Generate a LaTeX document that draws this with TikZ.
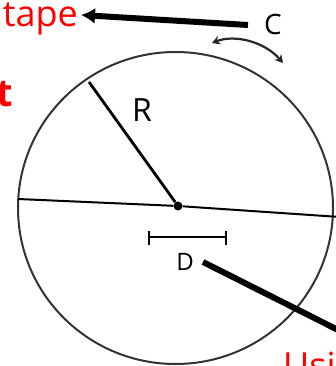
\documentclass[tikz,border=0pt]{standalone}
\usepackage{fontspec}
\newfontfamily\osans{Open Sans}
\usetikzlibrary{arrows.meta}
\begin{document}
\begin{tikzpicture}[x=1pt,y=-1pt,
  redtxt/.style={text=red,inner sep=0pt,font=\osans\fontsize{36}{40}\selectfont},
  bigred/.style={text=red,inner sep=0pt,font=\osans\bfseries\fontsize{38}{42}\selectfont},
  handtxt/.style={inner sep=0pt,font=\osans\fontsize{24}{26}\selectfont},
  rim/.style={draw=black!80,line width=2pt},
  thin/.style={draw=black,line width=2pt},
  pointer/.style={draw=black,line width=6pt},
  radius line/.style={draw=black,line width=2.8pt}]
\useasboundingbox (0,0) rectangle (336,366);
\clip (0,0) rectangle (336,366);
% circle
\draw[rim] (175.5,208) ellipse [x radius=157.5, y radius=156];
% coordinates
\coordinate (left) at (18,199);
\coordinate (right) at (340,217);
\coordinate (rimpt) at (89,82);
\node[circle,fill=black,inner sep=0pt,minimum size=9pt] (ctr) at (178,206) {};
\draw[thin] (left) -- (ctr) -- (right);
\draw[radius line] (rimpt) -- (ctr);
\node[font=\osans\fontsize{32}{36}\selectfont,inner sep=0pt] (R) at (142,110) {R};
% diameter bar
\coordinate (d1) at (149,237);
\coordinate (d2) at (226,237);
\draw[thin] (d1) -- (d2);
\draw[thin] ([yshift=-8]d1) -- ([yshift=6]d1);
\draw[thin] ([yshift=-8]d2) -- ([yshift=6]d2);
\node[handtxt] (D) at (185,262) {D};
\node[handtxt,font=\osans\fontsize{28}{30}\selectfont] (C) at (273,25) {C};
% labels
\node[redtxt,anchor=base east] (tape) at (78,27) {tape};
\node[bigred,anchor=base east] (t2) at (13,107) {t};
\node[redtxt,anchor=base west] (usi) at (283,378) {Usi};
% pointers
\coordinate (ctail) at (248,25);
\coordinate (dtail) at (360,341);
\draw[pointer,-{Latex[length=14pt,width=16pt]}] (ctail) -- (81,15);
\draw[pointer] (203,262) -- (dtail);
% circumference arrow
\draw[draw=black!85,line width=2.2pt,{Stealth[length=8pt,width=9pt]}-{Stealth[length=8pt,width=9pt]}]
  (212,43) .. controls (235,34) and (265,42) .. (283,63);
\end{tikzpicture}
\end{document}
